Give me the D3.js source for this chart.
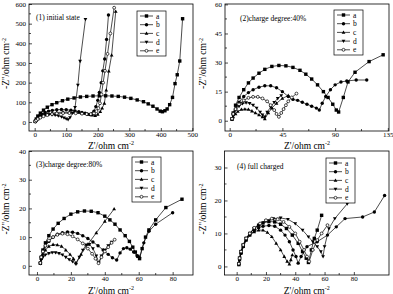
<!DOCTYPE html>
<html><head><meta charset="utf-8">
<script src="https://cdnjs.cloudflare.com/ajax/libs/d3/7.8.5/d3.min.js"></script>
<style>body{margin:0;background:#fff}svg{display:block}</style>
</head><body>
<svg id="chart" width="393" height="294"></svg>
<script>
// ---------- data ----------
const seriesNames = ["a","b","c","d","e"];
const panelTitles = ["(1) initial state","(2)charge degree:40%","(3)charge degree:80%","(4) full charged"];

const p1_xTicks = [0,100,200,300,400,500];
const p1_yTicks = [0,100,200,300,400,500,600];
const p2_xTicks = [0,45,90,135];
const p2_yTicks = [0,15,30,45,60];
const p3_xTicks = [0,20,40,60,80];
const p3_yTicks = [0,10,20,30,40];
const p4_xTicks = [0,20,40,60,80];
const p4_yTicks = [0,10,20,30];

// panel 1: initial state
const p1_a = [[2,3],[5,15],[10,30],[18,45],[28,60],[40,75],[55,88],[70,98],[88,108],[105,116],[125,122],[145,127],[165,130],[185,132],[205,133],[225,133],[245,132],[265,130],[285,126],[305,120],[325,112],[345,103],[360,92],[375,80],[388,66],[398,55],[405,52],[413,57],[420,66],[428,88],[437,125],[445,195],[452,240],[460,310],[469,525]];
const p1_b = [[2,2],[5,10],[10,20],[16,30],[24,40],[33,48],[44,55],[56,59],[70,62],[85,63],[100,62],[115,60],[128,56],[140,52],[150,48],[160,44],[168,40],[175,38],[182,42],[188,55],[194,78],[200,110],[205,150],[211,200],[216,260],[222,320],[228,420],[234,544]];
const p1_c = [[2,2],[5,8],[10,16],[18,25],[28,33],[40,40],[55,45],[70,48],[90,50],[110,49],[130,47],[150,44],[168,40],[182,35],[192,32],[200,38],[208,52],[214,70],[221,95],[227,162],[235,258],[244,340],[257,562]];
const p1_d = [[2,2],[5,8],[9,15],[14,22],[20,28],[28,33],[36,36],[45,38],[55,37],[65,35],[75,31],[85,26],[93,21],[100,16],[106,12],[112,22],[120,45],[128,74],[137,188],[144,309],[161,522]];
const p1_e = [[2,2],[5,8],[10,15],[18,22],[28,29],[40,35],[55,40],[70,43],[90,45],[110,45],[130,44],[150,42],[165,40],[178,40],[188,44],[196,55],[202,70],[207,95],[212,140],[217,200],[223,260],[231,346],[240,450],[252,581]];

// panel 2: charge degree 40%
const p2_a = [[2,1],[3,4],[5,8],[8,12],[12,16],[16,19.5],[20,22],[25,24.5],[30,26.5],[36,28],[42,28.5],[48,28.3],[54,27.5],[60,26],[65,24],[70,21.5],[75,18.5],[80,15],[84,12],[88,8.5],[91,5.5],[93,4.5],[97,12],[101,20],[107,25],[119,30.5],[131,34]];
const p2_b = [[2,1],[3,3],[5,6],[8,9.5],[12,12.5],[16,14.5],[20,16],[25,17.3],[30,18],[35,18],[40,17],[45,15],[50,12.5],[54,11],[58,10.5],[62,9.5],[66,8.5],[70,7.5],[74,6.5],[76.5,5.5],[79,9],[82,12.5],[86,16],[90,18.5],[95,20],[100,20.5],[108,21],[117,21]];
const p2_c = [[2,0.5],[3,2],[5,3.5],[7,4.8],[10,5.8],[13,6],[16,5.8],[19,5],[22,4],[25,3],[28,2],[30,1],[33,4],[36,6.5],[40,9],[45,11.5],[50,13]];
const p2_d = [[2,0.8],[3,3],[5,5.5],[8,7.5],[11,8.8],[14,9.3],[17,9],[20,8],[23,6.5],[26,4.5],[28,3],[30,2],[32,4.5],[35,7],[38,9.5],[41,11.5],[44,13]];
const p2_e = [[2,1],[3,3.5],[5,6],[8,8.5],[12,10.5],[16,11.8],[20,12.3],[24,12.3],[28,11.5],[32,10],[35,8],[38,5.5],[40,3.5],[42,2],[44,4],[46,6],[48,8],[50,10],[53,12],[57,14]];

// panel 3: charge degree 80%
const p3_a = [[2,1],[2.5,3],[3.5,5.5],[5,8],[7,10.5],[9.5,12.8],[12.5,14.8],[16,16.5],[20,18],[24,18.8],[28,19.1],[32,19],[36,18.5],[40,17.3],[43,16],[46,14.5],[49,12.5],[52,10.5],[54.5,8.5],[56.5,6.5],[58,4.8],[59.5,3.3],[60.5,2.5],[62,6],[64,10],[66,12.5],[70,16],[76,20.3],[85.5,23.2]];
const p3_b = [[2,1],[2.5,3],[3.5,5],[5,7],[7,8.5],[9.5,10],[12,11],[15,11.5],[18,11.8],[21,11.7],[24,11.3],[27,10.5],[30,9.5],[33,8.3],[36,7],[39,5.5],[42,4],[44.5,2.8],[47,2],[49,4.5],[51,6],[53,6.3],[55,5.8],[57,4.8],[59,3.5],[60.5,2.8],[63,8],[66,12],[70,14.5],[80,18.5]];
const p3_c = [[2,0.8],[2.5,2.5],[3.5,4],[5,5.5],[7,6.8],[9.5,7.4],[12,7.3],[14.5,6.8],[17,5.5],[19.5,4],[21.5,2.5],[23,1],[26,4],[30,7.5],[35,11.5],[40,15.5],[45.5,19.8]];
const p3_d = [[2,0.8],[2.5,2],[3.5,3],[5,3.8],[7,4.3],[9,4.6],[11,4.6],[13,4.3],[15,3.8],[17,3],[19,2.2],[21,1.5],[23,0.6],[25,3],[27,5.5],[29,7.3],[31,7.5],[33,6],[35,3.5],[36.5,1],[38,3.5],[40,5.5],[42,7],[44,8.3]];
const p3_e = [[2,1],[2.5,3],[3.5,5],[5,7],[7,8.8],[9.5,10],[12,10.8],[15,11.2],[18,11],[21,10.3],[24,9.2],[27,7.8],[30,6],[32.5,4.2],[34.5,2.5],[36.3,0.9],[38,3],[40,5],[42,6.5],[44,8],[45.8,9.1]];

// panel 4: full charged
const p4_a = [[1.5,0.8],[2,2.5],[3,4.5],[4.5,6.5],[6.5,8.5],[9,10],[12,11.5],[15,12.5],[18,13.2],[22,13.6],[26,13.5],[30,12.8],[34,11.5],[38,9.5],[42,7],[45,4.5],[47.5,2.5],[49,1.2],[51,5],[53,8.5],[55,11],[58,15.5]];
const p4_b = [[1.5,0.6],[2,2],[3,4],[4.5,6],[6.5,8],[9,9.5],[12,10.8],[15,11.7],[18,12.2],[22,12.4],[26,12.2],[30,11],[33,9.5],[36,7.5],[38.5,5],[40.5,3],[42,1],[44,3],[48,6],[55,7.5],[62,9.5],[68,12],[74,14.5],[86,15],[94,16.5],[101,21.5]];
const p4_c = [[1.5,0.5],[2,2],[3,4],[4.5,6],[6.5,8],[9,9.5],[12,10.5],[15,11],[18,11],[21,10.3],[24,9],[27,7],[30,5],[32.5,3],[34.5,1.5],[36,0.7],[37,2],[38,3.5]];
const p4_d = [[1.5,0.8],[2,2.5],[3,4.5],[4.5,6.5],[6.5,8.5],[9,10],[12,11.5],[16,12.8],[20,13.8],[25,14.5],[30,14.7],[35,14.3],[40,13],[45,11],[49,9],[52,7.5],[55,6],[57.5,4.5],[59,3],[60,6],[63,11.5],[67,14.5],[75.5,19]];
const p4_e = [[1.5,0.8],[2,2.5],[3,4.5],[4.5,6.5],[6.5,8.5],[9,10],[12,11.7],[16,13],[20,14],[24,14.5],[28,14.3],[32,13.5],[36,12],[40,10],[43,7.5],[46,5],[48,3],[49.5,1.5],[52,5],[55,8],[58,10],[62,12.5]];

// ---------- drawing ----------
const svg = d3.select("#chart");
const serif = "'Liberation Serif','Times New Roman',serif";

const panels = [
  {title:panelTitles[0], data:[p1_a,p1_b,p1_c,p1_d,p1_e], xt:p1_xTicks, yt:p1_yTicks, xd:[-18,502], yd:[-46,600],
   box:[29,193,4,131], tpos:[36,20], leg:[137,11], ylx:9, xly:148.5},
  {title:panelTitles[1], data:[p2_a,p2_b,p2_c,p2_d,p2_e], xt:p2_xTicks, yt:p2_yTicks, xd:[-4,136], yd:[-5.3,60.2],
   box:[225,389,4,131], tpos:[240,21], leg:[334,10], ylx:206, xly:148.5},
  {title:panelTitles[2], data:[p3_a,p3_b,p3_c,p3_d,p3_e], xt:p3_xTicks, yt:p3_yTicks, xd:[-4.7,92], yd:[-3.2,40],
   box:[29,193,151,275], tpos:[36,167], leg:[132,157], ylx:9, xly:293.5},
  {title:panelTitles[3], data:[p4_a,p4_b,p4_c,p4_d,p4_e], xt:p4_xTicks, yt:p4_yTicks, xd:[-8.3,104], yd:[-2.6,35],
   box:[224.5,389,151,275], tpos:[237,169], leg:[326,158], ylx:206, xly:293.5}
];

function marker(g, type, x, y, s) {
  const r = s/2;
  if (type === 0) g.append("rect").attr("x",x-r).attr("y",y-r).attr("width",s).attr("height",s).attr("fill","#000");
  else if (type === 1) g.append("circle").attr("cx",x).attr("cy",y).attr("r",r).attr("fill","#000");
  else if (type === 2) g.append("path").attr("d",`M${x},${y-r*1.15}L${x+r*1.1},${y+r*0.8}L${x-r*1.1},${y+r*0.8}Z`).attr("fill","#000");
  else if (type === 3) g.append("path").attr("d",`M${x},${y+r*1.15}L${x+r*1.1},${y-r*0.8}L${x-r*1.1},${y-r*0.8}Z`).attr("fill","#000");
  else g.append("circle").attr("cx",x).attr("cy",y).attr("r",r*0.85).attr("fill","#fff").attr("stroke","#000").attr("stroke-width",0.7);
}

panels.forEach(p => {
  const [L,R,T,B] = p.box;
  const x = d3.scaleLinear().domain(p.xd).range([L,R]);
  const y = d3.scaleLinear().domain(p.yd).range([B,T]);
  const g = svg.append("g");

  const xAxis = d3.axisBottom(x).tickValues(p.xt).tickSize(-3).tickPadding(1.5);
  const yAxis = d3.axisLeft(y).tickValues(p.yt).tickSize(-3).tickPadding(3);
  const gx = g.append("g").attr("transform",`translate(0,${B})`).call(xAxis);
  const gy = g.append("g").attr("transform",`translate(${L},0)`).call(yAxis);
  [gx,gy].forEach(a => {
    a.select(".domain").remove();
    a.selectAll("line").attr("stroke","#000").attr("stroke-width",0.7);
    a.selectAll("text").attr("font-family",serif).attr("font-size",7).attr("fill","#000");
  });
  const xm = p.xt.slice(0,-1).map((v,i)=>(v+p.xt[i+1])/2);
  const ym = p.yt.slice(0,-1).map((v,i)=>(v+p.yt[i+1])/2);
  g.selectAll(null).data(xm).enter().append("line")
    .attr("x1",d=>x(d)).attr("x2",d=>x(d)).attr("y1",B).attr("y2",B-2).attr("stroke","#000").attr("stroke-width",0.7);
  g.selectAll(null).data(ym).enter().append("line")
    .attr("y1",d=>y(d)).attr("y2",d=>y(d)).attr("x1",L).attr("x2",L+2).attr("stroke","#000").attr("stroke-width",0.7);
  g.append("rect").attr("x",L).attr("y",T).attr("width",R-L).attr("height",B-T)
    .attr("fill","none").attr("stroke","#000").attr("stroke-width",0.8);

  const line = d3.line().x(d=>x(d[0])).y(d=>y(d[1]));
  p.data.forEach(s => {
    g.append("path").attr("d",line(s)).attr("fill","none").attr("stroke","#000").attr("stroke-width",0.7);
  });
  p.data.forEach((s,i) => {
    s.forEach(d => marker(g, i, x(d[0]), y(d[1]), 3.4));
  });

  g.append("text").attr("x",p.tpos[0]).attr("y",p.tpos[1]).attr("font-family",serif).attr("font-size",7.5).text(p.title);

  const [lx,ly] = p.leg;
  g.append("rect").attr("x",lx).attr("y",ly).attr("width",29).attr("height",45)
    .attr("fill","#fff").attr("stroke","#000").attr("stroke-width",0.7);
  seriesNames.forEach((n,i) => {
    const yy = ly + 5 + i*8.7;
    g.append("line").attr("x1",lx+3).attr("x2",lx+16).attr("y1",yy).attr("y2",yy).attr("stroke","#000").attr("stroke-width",0.7);
    marker(g, i, lx+9.5, yy, 3.4);
    g.append("text").attr("x",lx+19).attr("y",yy+2.5).attr("font-family",serif).attr("font-size",7.5).text(n);
  });

  const xl = g.append("text").attr("x",(L+R)/2).attr("y",p.xly).attr("text-anchor","middle")
    .attr("font-family",serif).attr("font-size",9.5);
  xl.append("tspan").text("Z'/ohm cm");
  xl.append("tspan").attr("dy",-3.5).attr("font-size",6).text("-2");
  const yl = g.append("text").attr("transform",`translate(${p.ylx},${(T+B)/2 - 4}) rotate(-90)`).attr("text-anchor","middle")
    .attr("font-family",serif).attr("font-size",9.5);
  yl.append("tspan").text("-Z''/ohm cm");
  yl.append("tspan").attr("dy",-3.5).attr("font-size",6).text("-2");
});
</script>
</body></html>
